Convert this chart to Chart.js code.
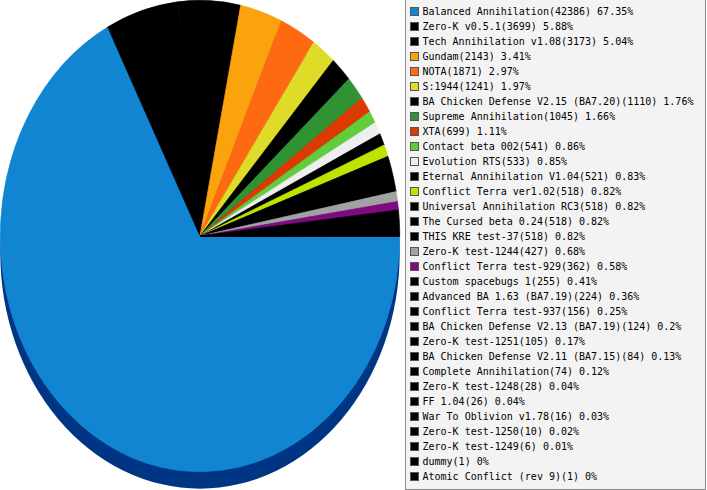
<!DOCTYPE html>
<html lang="en">
  <head>
    <meta charset="UTF-8" />
    <title>Mods</title>
    <script src="https://cdn.jsdelivr.net/npm/chart.js"></script>
    <style>
      body {
        margin: 0;
        background: #fff;
        overflow: hidden;
      }
      .wrap {
        position: absolute;
        left: 0;
        top: 0;
        width: 707px;
        height: 490px;
      }
      .legend {
        position: absolute;
        left: 405px;
        top: -1px;
        width: 301px;
        height: 491px;
        box-sizing: border-box;
        border: 1px solid #8a8a8a;
        background: #f3f3f3;
        font: 10px "DejaVu Sans Mono", monospace;
        color: #000;
        padding-top: 4px;
      }
      .legend .row {
        position: relative;
        height: 15px;
        line-height: 15px;
        white-space: nowrap;
      }
      .legend .sw {
        position: absolute;
        left: 4px;
        top: 3px;
        width: 9px;
        height: 9px;
        box-sizing: border-box;
        border: 1px solid #555;
      }
      .legend .txt {
        position: absolute;
        left: 16.5px;
        top: 0;
      }
    </style>
  </head>
  <body>
    <div class="wrap">
      <canvas id="myChart"></canvas>
    </div>
    <div class="legend" id="legend"></div>
    <script>
      let mods = [
        "Balanced Annihilation",
        "Zero-K v0.5.1",
        "Tech Annihilation v1.08",
        "Gundam",
        "NOTA",
        "S:1944",
        "BA Chicken Defense V2.15 (BA7.20)",
        "Supreme Annihilation",
        "XTA",
        "Contact beta 002",
        "Evolution RTS",
        "Eternal Annihilation V1.04",
        "Conflict Terra ver1.02",
        "Universal Annihilation RC3",
        "The Cursed beta 0.24",
        "THIS KRE test-37",
        "Zero-K test-1244",
        "Conflict Terra test-929",
        "Custom spacebugs 1",
        "Advanced BA 1.63 (BA7.19)",
        "Conflict Terra test-937",
        "BA Chicken Defense V2.13 (BA7.19)",
        "Zero-K test-1251",
        "BA Chicken Defense V2.11 (BA7.15)",
        "Complete Annihilation",
        "Zero-K test-1248",
        "FF 1.04",
        "War To Oblivion v1.78",
        "Zero-K test-1250",
        "Zero-K test-1249",
        "dummy",
        "Atomic Conflict (rev 9)",
      ];

      let games = [
        42386, 3699, 3173, 2143, 1871, 1241, 1110, 1045, 699, 541, 533, 521,
        518, 518, 518, 518, 427, 362, 255, 224, 156, 124, 105, 84, 74, 28, 26,
        16, 10, 6, 1, 1,
      ];

      let percent = [
        67.35, 5.88, 5.04, 3.41, 2.97, 1.97, 1.76, 1.66, 1.11, 0.86, 0.85, 0.83,
        0.82, 0.82, 0.82, 0.82, 0.68, 0.58, 0.41, 0.36, 0.25, 0.2, 0.17, 0.13,
        0.12, 0.04, 0.04, 0.03, 0.02, 0.01, 0, 0,
      ];

      let colors = [
        "#1184d2", "#000000", "#000000", "#faa30c", "#fd6a12", "#dfdb29",
        "#000000", "#2f9334", "#dc3a02", "#63cc3c", "#eeeeee", "#000000",
        "#bee300", "#000000", "#000000", "#000000", "#a2a2a2", "#7e0b80",
        "#000000", "#000000", "#000000", "#000000", "#000000", "#000000",
        "#000000", "#000000", "#000000", "#000000", "#000000", "#000000",
        "#000000", "#000000",
      ];

      const SQUASH = 236 / 200; // pie is stretched vertically
      const DEPTH = 17;

      // squash the circle into an ellipse and draw the dark rim under it
      const tilt = {
        id: "tilt",
        beforeDatasetsDraw(chart) {
          const arc = chart.getDatasetMeta(0).data[0];
          const x = arc.x, y = arc.y, r = arc.outerRadius;
          const ctx = chart.ctx;
          ctx.save();
          ctx.translate(x, y);
          ctx.scale(1, SQUASH);
          ctx.translate(-x, -y);
          ctx.fillStyle = "#003584";
          ctx.beginPath();
          ctx.arc(x, y + DEPTH / SQUASH, r, 0, Math.PI * 2);
          ctx.fill();
        },
        afterDatasetsDraw(chart) {
          chart.ctx.restore();
        },
      };

      new Chart(document.getElementById("myChart"), {
        type: "pie",
        data: {
          labels: mods,
          datasets: [
            {
              data: games,
              backgroundColor: colors,
              borderColor: colors, // hides the hairline seams between slices
              borderWidth: 0.6,
            },
          ],
        },
        options: {
          responsive: true,
          maintainAspectRatio: false,
          animation: false,
          events: [],
          rotation: 90,
          layout: { padding: { left: 0, top: 0, right: 307, bottom: 18 } },
          plugins: {
            legend: { display: false },
            tooltip: { enabled: false },
          },
        },
        plugins: [tilt],
      });

      let legend = document.getElementById("legend");
      mods.forEach((name, i) => {
        let row = document.createElement("div");
        row.className = "row";
        let sw = document.createElement("span");
        sw.className = "sw";
        sw.style.background = colors[i];
        let txt = document.createElement("span");
        txt.className = "txt";
        txt.textContent = name + "(" + games[i] + ") " + percent[i] + "%";
        row.appendChild(sw);
        row.appendChild(txt);
        legend.appendChild(row);
      });
    </script>
  </body>
</html>
